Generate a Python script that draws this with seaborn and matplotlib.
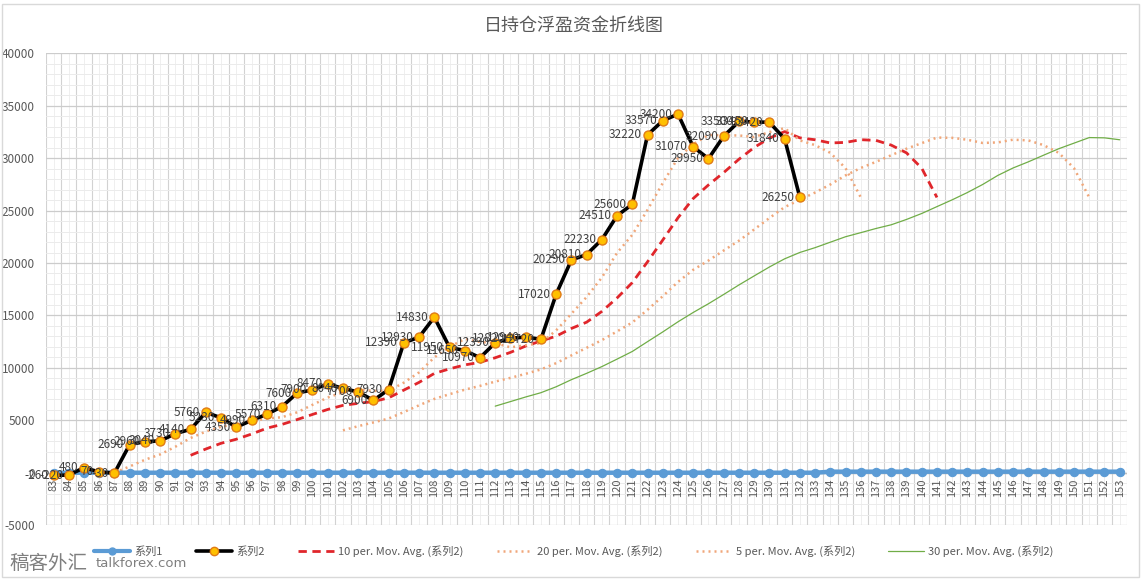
import numpy as np
import pandas as pd
import matplotlib
matplotlib.use("Agg")
import matplotlib.pyplot as plt
from matplotlib.lines import Line2D
from matplotlib.patches import Rectangle
from matplotlib.ticker import MultipleLocator
import seaborn as sns

# ---------------- data ----------------
categories = list(range(83, 154))
series1 = [0] * 51 + [100] * 20          # 83..133 -> 0, 134..153 -> ~100
series2 = [-260, -220, 480, 70, -30, 2690, 2960, 3040, 3730, 4140,
           5760, 5230, 4350, 4990, 5570, 6310, 7600, 7900, 8470, 8040,
           7700, 6900, 7930, 12390, 12930, 14830, 11950, 11650, 10970, 12390,
           12820, 12940, 12720, 17020, 20290, 20810, 22230, 24510, 25600, 32220,
           33570, 34200, 31070, 29950, 32090, 33500, 33450, 33420, 31840, 26250]
ma_periods = [10, 20, 5, 30]
title = "日持仓浮盈资金折线图"

# ---------------- build frame ----------------
df = pd.DataFrame({"cat": categories, "s1": series1})
s2 = pd.Series(series2 + [np.nan] * (len(categories) - len(series2)), dtype=float)
df["s2"] = s2.values
for n in ma_periods:
    ma = s2.rolling(n, min_periods=1).mean()
    ma.iloc[: n - 1] = np.nan
    df[f"ma{n}"] = ma.values

sns.set_theme(style="white")
plt.rcParams["font.family"] = ["Noto Sans CJK SC", "DejaVu Sans"]

fig = plt.figure(figsize=(11.48, 5.79), dpi=100)
ax = fig.add_axes([0.040, 0.093, 0.942, 0.815])

# grid
ax.set_xlim(82.5, 153.5)
ax.set_ylim(-5000, 40000)
ax.yaxis.set_major_locator(MultipleLocator(5000))
ax.yaxis.set_minor_locator(MultipleLocator(1000))
ax.set_axisbelow(True)
ax.grid(which="major", axis="y", color="#cccccc", lw=0.9)
ax.grid(which="minor", axis="y", color="#ebebeb", lw=0.7)
for c in categories:
    ax.axvline(c - 0.5, color="#d2d2d2", lw=0.8, zorder=0)
    ax.axvline(c, color="#ededed", lw=0.6, zorder=0)
ax.axvline(153.5, color="#d2d2d2", lw=0.8, zorder=0)
ax.axhline(0, color="#bfbfbf", lw=1.0, zorder=1)

# moving averages (trendlines)
ma_styles = {
    10: dict(color="#e0262b", lw=2.0, dashes=(3, 2)),
    20: dict(color="#f0a77a", lw=1.8, dashes=(0.8, 1.6)),
    5: dict(color="#f0a77a", lw=1.8, dashes=(0.8, 1.6)),
    30: dict(color="#70ad47", lw=0.9, dashes=None),
}
for n in ma_periods:
    st = ma_styles[n]
    sub = df.dropna(subset=[f"ma{n}"])
    sns.lineplot(data=sub, x="cat", y=f"ma{n}", ax=ax, color=st["color"],
                 lw=st["lw"], zorder=3)
    line = ax.lines[-1]
    if st["dashes"]:
        line.set_dashes(st["dashes"])

# series 1
sns.lineplot(data=df, x="cat", y="s1", ax=ax, color="#5b9bd5", lw=3.2,
             marker="o", markersize=6, markeredgecolor="#5b9bd5", zorder=4)
# series 2
sub2 = df.dropna(subset=["s2"])
sns.lineplot(data=sub2, x="cat", y="s2", ax=ax, color="black", lw=2.6,
             marker="o", markersize=6.5, markerfacecolor="#ffc000",
             markeredgecolor="#e07b16", markeredgewidth=1.0, zorder=5)

for c, v in zip(sub2["cat"], sub2["s2"]):
    ax.annotate(f"{int(v)}", (c, v), xytext=(-4, 0), textcoords="offset points",
                ha="right", va="center", fontsize=8.5, color="#404040", zorder=6)

# axes text
ax.set_xlabel("")
ax.set_ylabel("")
ax.set_xticks(categories)
ax.set_xticklabels([])
ax.tick_params(axis="x", length=0)
ax.set_yticks(range(-5000, 40001, 5000))
ax.set_yticklabels([str(v) for v in range(-5000, 40001, 5000)], fontsize=8.5, color="#595959")
ax.tick_params(axis="y", length=0, pad=8)
for sp in ax.spines.values():
    sp.set_visible(False)

# category labels just under the zero line (axis crosses at 0)
for c in categories:
    ax.annotate(str(c), (c, 0), xytext=(0, -4), textcoords="offset points",
                rotation=90, ha="center", va="top", fontsize=8, color="#595959")

fig.text(0.5, 0.955, title, ha="center", va="center", fontsize=13, color="#595959")

handles = [
    Line2D([], [], color="#5b9bd5", lw=3, marker="o", markersize=5),
    Line2D([], [], color="black", lw=2.6, marker="o", markersize=6,
           markerfacecolor="#ffc000", markeredgecolor="#e07b16"),
    Line2D([], [], color="#e0262b", lw=2.0, dashes=(3, 2)),
    Line2D([], [], color="#f0a77a", lw=1.8, dashes=(0.8, 1.6)),
    Line2D([], [], color="#f0a77a", lw=1.8, dashes=(0.8, 1.6)),
    Line2D([], [], color="#70ad47", lw=0.9),
]
labels = ["系列1", "系列2", "10 per. Mov. Avg. (系列2)", "20 per. Mov. Avg. (系列2)",
          "5 per. Mov. Avg. (系列2)", "30 per. Mov. Avg. (系列2)"]
fig.legend(handles, labels, loc="center", bbox_to_anchor=(0.50, 0.048), ncol=6,
           frameon=False, fontsize=8, labelcolor="#595959", columnspacing=3.0,
           handlelength=3.2, handletextpad=0.4)

fig.text(0.008, 0.026, "稿客外汇", fontsize=14, color="#7f7f7f", ha="left", va="center")
fig.text(0.083, 0.026, "talkforex.com", fontsize=9.5, color="#7f7f7f", ha="left", va="center",
         family=["DejaVu Sans"])

fig.patches.append(Rectangle((0.002, 0.003), 0.99, 0.99, transform=fig.transFigure,
                             fill=False, edgecolor="#d9d9d9", lw=1.0))

fig.savefig("out.png", dpi=100)
